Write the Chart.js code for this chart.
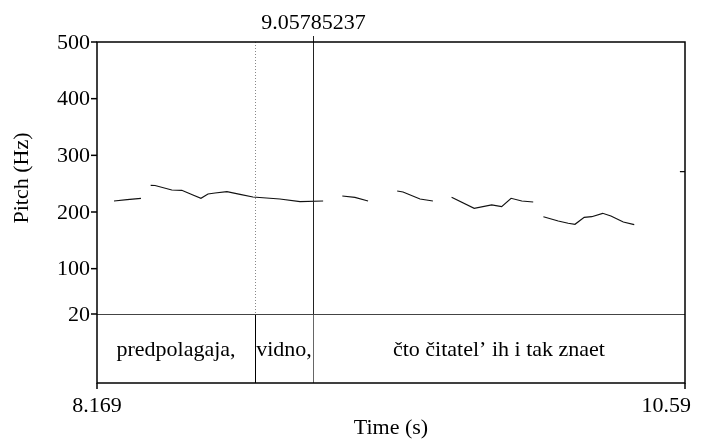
<!DOCTYPE html>
<html>
<head>
<meta charset="utf-8">
<script src="https://cdn.jsdelivr.net/npm/chart.js@4/dist/chart.umd.min.js"></script>
<style>
  html, body { margin: 0; padding: 0; background: #fff; }
  #wrap { width: 715px; height: 444px; }
</style>
</head>
<body>
<div id="wrap"><canvas id="graficoPitch" width="715" height="444"></canvas></div>
<script>
// pitch track, null = unvoiced gap
const tiempos = [8.239, 8.293, 8.350, null,
  8.390, 8.408, 8.477, 8.518, 8.564, 8.597, 8.626, 8.655, 8.704, 8.758, 8.811, 8.922, 9.005, 9.100, null,
  9.179, 9.231, 9.285, null,
  9.405, 9.429, 9.499, 9.552, null,
  9.629, 9.722, 9.794, 9.835, 9.874, 9.918, 9.965, null,
  10.007, 10.068, 10.109, 10.137, 10.175, 10.206, 10.251, 10.285, 10.336, 10.381, null,
  10.569, 10.590]
const pitch = [219.4, 221.7, 224.2, null,
  247.1, 246.8, 238.8, 238.3, 230.0, 224.2, 231.8, 233.5, 235.8, 231.2, 226.5, 222.9, 218.2, 219.4, null,
  228.2, 225.9, 219.4, null,
  237.1, 235.3, 222.9, 219.4, null,
  225.9, 206.5, 212.4, 209.4, 224.2, 219.4, 217.6, null,
  191.7, 184.1, 180.1, 178.3, 190.6, 191.7, 197.7, 192.9, 182.4, 177.6, null,
  271.1, 271.1]

const tiempoMin = 8.169
const tiempoMax = 10.59
const cursor = 9.05785237
const ticksY = [20, 100, 200, 300, 400, 500]
const limites = [8.169, 8.8195, 9.05785237, 10.59]
const palabras = ['predpolagaja,', 'vidno,', 'čto čitatel’ ih i tak znaet']

const fuente = '22px "Liberation Serif", "Times New Roman", serif'
const yPiso = 20 - (69 / 272) * 480  // textgrid tier below 20 Hz

let puntos = []
tiempos.forEach((t, i) => {
  puntos.push(t === null ? { x: NaN, y: null } : { x: t, y: pitch[i] })
})

const praatDibujo = {
  id: 'praatDibujo',
  afterDatasetsDraw(chart) {
    const ctx = chart.ctx
    const a = chart.chartArea
    const xs = chart.scales.x
    const ys = chart.scales.y
    const y20 = ys.getPixelForValue(20)
    ctx.save()
    ctx.strokeStyle = '#000'
    ctx.fillStyle = '#000'
    ctx.font = fuente

    // dotted boundary in pitch area
    const xb = Math.round(xs.getPixelForValue(limites[1])) + 0.5
    ctx.lineWidth = 1
    ctx.strokeStyle = '#888'
    ctx.setLineDash([1, 2])
    ctx.beginPath(); ctx.moveTo(xb, a.top); ctx.lineTo(xb, y20); ctx.stroke()
    ctx.setLineDash([])

    // tier boundary
    ctx.strokeStyle = '#000'
    ctx.beginPath(); ctx.moveTo(xb, y20); ctx.lineTo(xb, a.bottom); ctx.stroke()

    // cursor
    const xc = Math.round(xs.getPixelForValue(cursor)) + 0.5
    ctx.strokeStyle = '#222'
    ctx.beginPath(); ctx.moveTo(xc, a.top - 6); ctx.lineTo(xc, y20); ctx.stroke()
    ctx.strokeStyle = '#666'
    ctx.beginPath(); ctx.moveTo(xc, y20); ctx.lineTo(xc, a.bottom); ctx.stroke()

    // 20 Hz line / tier top
    ctx.strokeStyle = '#444'
    ctx.beginPath(); ctx.moveTo(a.left, Math.round(y20) + 0.5); ctx.lineTo(a.right, Math.round(y20) + 0.5); ctx.stroke()

    // box
    ctx.strokeStyle = '#000'
    ctx.lineWidth = 1.5
    ctx.strokeRect(a.left, a.top, a.right - a.left, a.bottom - a.top)

    // y ticks
    ctx.lineWidth = 1.5
    ctx.textAlign = 'right'
    ctx.textBaseline = 'middle'
    ticksY.forEach((v) => {
      const py = ys.getPixelForValue(v)
      ctx.beginPath(); ctx.moveTo(a.left - 6, py); ctx.lineTo(a.left, py); ctx.stroke()
      ctx.fillText(String(v), a.left - 7, py + 1)
    })

    // x ticks
    ctx.textBaseline = 'top'
    ;[tiempoMin, tiempoMax].forEach((v, i) => {
      const px = xs.getPixelForValue(v)
      ctx.beginPath(); ctx.moveTo(px, a.bottom); ctx.lineTo(px, a.bottom + 6); ctx.stroke()
      const txt = i === 0 ? '8.169' : '10.59'
      ctx.textAlign = i === 0 ? 'center' : 'right'
      ctx.fillText(txt, i === 0 ? px : px + 6, a.bottom + 12)
    })
    ctx.textAlign = 'center'
    ctx.textBaseline = 'bottom'
    ctx.fillText('9.05785237', xc, a.top - 8)

    // tier labels
    ctx.textBaseline = 'middle'
    palabras.forEach((p, i) => {
      const x0 = xs.getPixelForValue(limites[i])
      const x1 = xs.getPixelForValue(limites[i + 1])
      ctx.fillText(p, (x0 + x1) / 2, (y20 + a.bottom) / 2 + 2)
    })

    // axis titles
    ctx.fillText('Time (s)', (a.left + a.right) / 2, 428)
    ctx.translate(22, (a.top + y20) / 2)
    ctx.rotate(-Math.PI / 2)
    ctx.fillText('Pitch (Hz)', 0, 0)
    ctx.restore()
  }
}

const lienzo = document.getElementById('graficoPitch')

new Chart(lienzo, {
  type: 'line',
  data: {
    datasets: [
      {
        label: 'Pitch',
        data: puntos,
        borderColor: '#111',
        borderWidth: 1.2,
        pointRadius: 0,
        spanGaps: false,
        tension: 0,
      },
    ],
  },
  options: {
    responsive: false,
    animation: false,
    layout: { padding: { left: 97, right: 30, top: 42, bottom: 61 } },
    plugins: { legend: { display: false }, tooltip: { enabled: false } },
    scales: {
      x: { type: 'linear', min: tiempoMin, max: tiempoMax, display: false },
      y: { type: 'linear', min: yPiso, max: 500, display: false },
    },
  },
  plugins: [praatDibujo],
})
</script>
</body>
</html>
